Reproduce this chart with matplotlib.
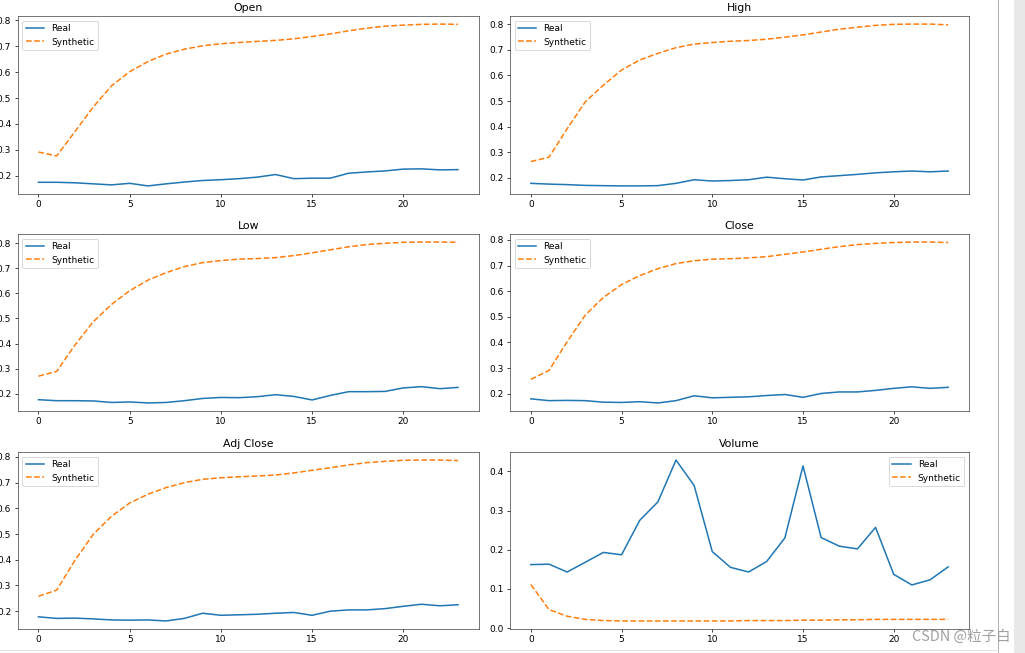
import matplotlib
matplotlib.use("Agg")
import matplotlib.pyplot as plt
import numpy as np

# time steps of the sequence
steps = np.arange(24)

# ---- Open ----
open_real = [0.174, 0.174, 0.172, 0.168, 0.164, 0.170, 0.160, 0.168, 0.175, 0.181, 0.184, 0.188,
             0.194, 0.204, 0.188, 0.190, 0.190, 0.209, 0.214, 0.218, 0.225, 0.226, 0.222, 0.223]
open_syn = [0.291, 0.276, 0.370, 0.465, 0.547, 0.602, 0.641, 0.670, 0.689, 0.702, 0.710, 0.715,
            0.719, 0.723, 0.729, 0.738, 0.748, 0.760, 0.770, 0.778, 0.782, 0.785, 0.786, 0.785]

# ---- High ----
high_real = [0.179, 0.176, 0.174, 0.171, 0.170, 0.169, 0.169, 0.170, 0.179, 0.193, 0.188, 0.190,
             0.193, 0.203, 0.197, 0.192, 0.204, 0.209, 0.214, 0.220, 0.224, 0.227, 0.224, 0.227]
high_syn = [0.264, 0.281, 0.392, 0.497, 0.562, 0.621, 0.660, 0.686, 0.708, 0.722, 0.728, 0.733,
            0.736, 0.741, 0.749, 0.758, 0.769, 0.780, 0.788, 0.795, 0.799, 0.800, 0.800, 0.797]

# ---- Low ----
low_real = [0.176, 0.172, 0.172, 0.171, 0.165, 0.167, 0.163, 0.165, 0.172, 0.181, 0.185, 0.184,
            0.188, 0.196, 0.189, 0.175, 0.193, 0.208, 0.208, 0.209, 0.223, 0.228, 0.220, 0.225]
low_syn = [0.270, 0.289, 0.394, 0.487, 0.556, 0.611, 0.653, 0.683, 0.707, 0.723, 0.731, 0.737,
           0.739, 0.743, 0.751, 0.762, 0.774, 0.786, 0.795, 0.800, 0.804, 0.805, 0.805, 0.804]

# ---- Close ----
close_real = [0.180, 0.173, 0.174, 0.173, 0.167, 0.166, 0.169, 0.164, 0.173, 0.192, 0.184, 0.186,
              0.188, 0.193, 0.197, 0.186, 0.201, 0.207, 0.207, 0.213, 0.221, 0.227, 0.221, 0.225]
close_syn = [0.256, 0.291, 0.403, 0.507, 0.576, 0.626, 0.661, 0.688, 0.708, 0.719, 0.725, 0.727,
             0.730, 0.735, 0.744, 0.753, 0.764, 0.774, 0.782, 0.787, 0.790, 0.792, 0.792, 0.790]

# ---- Adj Close ----
adj_real = [0.178, 0.172, 0.173, 0.170, 0.166, 0.165, 0.166, 0.162, 0.172, 0.192, 0.184, 0.186,
            0.188, 0.192, 0.195, 0.184, 0.200, 0.205, 0.205, 0.210, 0.219, 0.227, 0.221, 0.225]
adj_syn = [0.258, 0.282, 0.398, 0.499, 0.569, 0.621, 0.655, 0.681, 0.700, 0.713, 0.719, 0.723,
           0.726, 0.730, 0.738, 0.748, 0.758, 0.769, 0.778, 0.783, 0.787, 0.788, 0.788, 0.786]

# ---- Volume ----
vol_real = [0.162, 0.163, 0.143, 0.168, 0.193, 0.187, 0.275, 0.322, 0.429, 0.364, 0.195, 0.155,
            0.143, 0.170, 0.230, 0.414, 0.231, 0.209, 0.202, 0.257, 0.137, 0.110, 0.123, 0.156]
vol_syn = [0.111, 0.047, 0.030, 0.022, 0.019, 0.018, 0.018, 0.018, 0.018, 0.018, 0.018, 0.018,
           0.019, 0.019, 0.019, 0.020, 0.020, 0.021, 0.021, 0.022, 0.022, 0.022, 0.022, 0.022]

titles = ["Open", "High", "Low", "Close", "Adj Close", "Volume"]
reals = [open_real, high_real, low_real, close_real, adj_real, vol_real]
syns = [open_syn, high_syn, low_syn, close_syn, adj_syn, vol_syn]
legend_locs = ["upper left"] * 5 + ["upper right"]

W, H = 1025, 653
DPI = 65  # screenshot was shrunk, so draw everything a bit smaller
fig = plt.figure(figsize=(W / DPI, H / DPI), dpi=DPI)

# axes boxes in pixels (left, top, right, bottom) -- the screenshot cuts the left labels
col_x = [(17.5, 479), (510, 969)]
row_y = [(16, 194), (234, 411), (452, 629)]

for i, title in enumerate(titles):
    r, c = divmod(i, 2)
    x0, x1 = col_x[c]
    y0, y1 = row_y[r]
    ax = fig.add_axes([x0 / W, 1 - y1 / H, (x1 - x0) / W, (y1 - y0) / H])
    ax.plot(steps, reals[i], lw=1.7, label="Real")
    ax.plot(steps, syns[i], lw=1.7, linestyle="--", label="Synthetic")
    ax.set_title(title)
    ax.set_xticks([0, 5, 10, 15, 20])
    for sp in ax.spines.values():
        sp.set_color("#444444")
    ax.legend(loc=legend_locs[i])

# notebook chrome: divider line, scrollbar strip, bottom border
fig.add_artist(plt.Line2D([998 / W, 998 / W], [0, 1], color="#aaaaaa", lw=1))
fig.add_artist(plt.Rectangle((1014 / W, 0), 11 / W, 1, color="#e8e8e8", lw=0))
fig.add_artist(plt.Line2D([0, 998 / W], [1 - 650 / H, 1 - 650 / H], color="#e0e0e0", lw=1))

# watermark
fig.text(912 / W, 1 - 637 / H, "CSDN @粒子白", fontsize=16, color="#a0a0a0",
         va="center", ha="left", family=["Noto Sans CJK SC", "DejaVu Sans"])

fig.savefig("out.png", dpi=DPI)
